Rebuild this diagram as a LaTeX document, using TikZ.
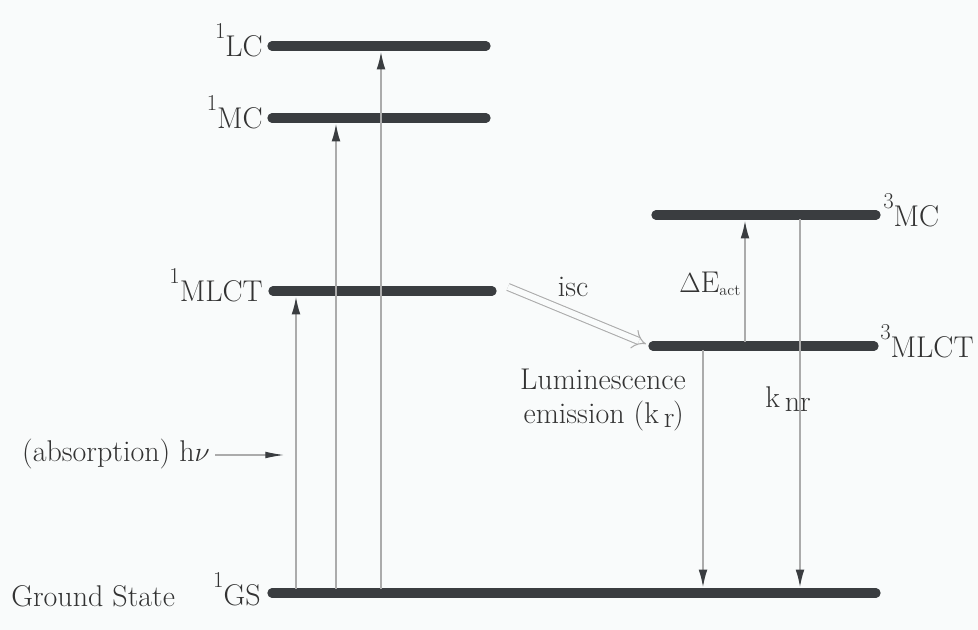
\documentclass[tikz,border=0pt]{standalone}
\usetikzlibrary{arrows.meta}
\definecolor{bg}{HTML}{F9FBFB}
\definecolor{ink}{HTML}{3A3D40}
\definecolor{txt}{HTML}{333333}
\definecolor{thinline}{HTML}{ABABAB}
% state label: small raised multiplicity, then the state name set a little low
\newcommand{\statelbl}[2]{\raisebox{10.5pt}{\fontsize{17}{17}\selectfont #1}\raisebox{-3pt}{#2}}
\begin{document}
\begin{tikzpicture}[x=0.75pt,y=-0.75pt,
  font=\fontsize{22.5}{26}\selectfont, text=txt,
  level/.style={line width=7pt, line cap=round, draw=ink},
  trans/.style={draw=thinline, line width=0.9pt, shorten <=3pt, shorten >=4.5pt,
    -{Latex[length=13pt,width=6.5pt,color=ink]}},
  iscarrow/.style={draw=thinline, line width=0.8pt, double=bg, double distance=4.5pt,
    -{Implies}},
  lbl/.style={inner sep=0pt}]
\fill[bg] (0,0) rectangle (978,630);
\useasboundingbox (0,0) rectangle (978,630);

% energy levels
\coordinate (lcL) at (272,46);   \coordinate (lcR) at (486,46);
\coordinate (mcL) at (272,118);  \coordinate (mcR) at (486,118);
\coordinate (smL) at (273,291);  \coordinate (smR) at (492,291);
\coordinate (tmcL) at (656,215); \coordinate (tmcR) at (876,215);
\coordinate (tmlL) at (653,346); \coordinate (tmlR) at (874,346);
\coordinate (gsL) at (272,593);  \coordinate (gsR) at (876,593);

\draw[level] (lcL) -- (lcR);
\draw[level] (mcL) -- (mcR);
\draw[level] (smL) -- (smR);
\draw[level] (tmcL) -- (tmcR);
\draw[level] (tmlL) -- (tmlR);
\draw[level] (gsL) -- (gsR);

% state labels
\node[lbl, anchor=base east] (nLC) at (263,53) {\statelbl{1}{LC}};
\node[lbl, anchor=base east] (nMC) at (263,125) {\statelbl{1}{MC}};
\node[lbl, anchor=base east] (nSM) at (263,298) {\statelbl{1}{MLCT}};
\node[lbl, anchor=base east] (nGS) at (261,601) {\statelbl{1}{GS}};
\node[lbl, anchor=base west] (nTMC) at (883,223) {\statelbl{3}{MC}};
\node[lbl, anchor=base west] (nTML) at (880,354) {\statelbl{3}{MLCT}};
\node[lbl, anchor=base west] (nGround) at (11,606) {Ground State};

% vertical transitions
\draw[trans] (296,0 |- gsL) -- (296,0 |- smL);
\draw[trans] (336,0 |- gsL) -- (336,0 |- mcL);
\draw[trans] (381,0 |- gsL) -- (381,0 |- lcL);
\draw[trans] (745,0 |- tmlL) -- (745,0 |- tmcL);
\draw[trans] (703,0 |- tmlL) -- (703,0 |- gsL);
\draw[trans] (800,0 |- tmcL) -- (800,0 |- gsL);

% intersystem crossing
\coordinate (iscA) at (508,287);
\coordinate (iscB) at (646,344);
\draw[iscarrow] (iscA) -- (iscB);
\node[lbl, anchor=base] (nIsc) at (573,297) {isc};

% absorption
\node[lbl, anchor=base east] (nAbs) at (210,462) {(absorption) h$\nu$};
\coordinate (hvB) at (284,455);
\draw[draw=thinline, line width=0.8pt, -{Latex[length=14pt,width=5pt,color=ink]}]
  (nAbs.east |- hvB) ++(5,0) -- (hvB);

% activation barrier and decay labels
\node[lbl, anchor=base west] (nDE) at (679,293)
  {$\Delta$E\raisebox{-2pt}{\fontsize{12}{12}\selectfont act}};
\node[lbl, anchor=base east] (nLum) at (686,390) {Luminescence};
\node[lbl, anchor=base east] (nEm) at (684,424)
  {emission (k\,\raisebox{-2.5pt}{r}\kern-1pt)};
\node[lbl, anchor=base west] (nKnr) at (765,408)
  {k\,\raisebox{-3pt}{nr}};
\end{tikzpicture}
\end{document}
